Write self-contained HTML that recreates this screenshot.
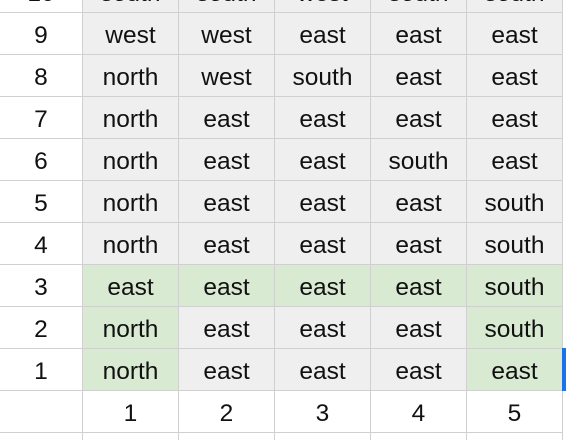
<!DOCTYPE html>
<html><head><meta charset="utf-8"><style>
html,body{margin:0;width:566px;height:440px;overflow:hidden;background:#fff}
body{font-family:"Liberation Sans",Arial,sans-serif;position:relative}
.c{position:absolute;box-sizing:border-box;display:flex;align-items:center;justify-content:center;padding-top:5px;font-size:24.5px;color:#111;border-right:1px solid #d0d0d0;border-bottom:1px solid #d0d0d0}
</style></head><body>
<div id="g"></div>
<div style="position:absolute;left:562px;top:348px;width:4px;height:43px;background:#1a73e8"></div>
<script>
const rows=[10,9,8,7,6,5,4,3,2,1];
const cols=[1,2,3,4,5];
const values=[
["south","south","west","south","south"],
["west","west","east","east","east"],
["north","west","south","east","east"],
["north","east","east","east","east"],
["north","east","east","south","east"],
["north","east","east","east","south"],
["north","east","east","east","south"],
["east","east","east","east","south"],
["north","east","east","east","south"],
["north","east","east","east","east"]];
const highlighted=[[3,1],[3,2],[3,3],[3,4],[3,5],[2,1],[2,5],[1,1],[1,5]];
const g=document.getElementById('g');
const top0=-29,rh=42,hw=83,cw=96;
function mk(x,y,w,h,t,bg){const d=document.createElement('div');d.className='c';d.style.left=x+'px';d.style.top=y+'px';d.style.width=w+'px';d.style.height=h+'px';d.style.background=bg;d.textContent=t;g.appendChild(d);return d;}
rows.forEach((r,i)=>{
 const y=top0+i*rh;
 const h=mk(0,y,hw,rh,r,'#fff');
 
 
 cols.forEach((c,j)=>{
  const hl=highlighted.some(p=>p[0]===r&&p[1]===c);
  const d=mk(hw+j*cw,y,cw,rh,values[i][j],hl?'#d9ead3':'#efefef');
  
  
 });
});
const yh=top0+rows.length*rh;
const corner=mk(0,yh,hw,rh,'','#fff');


const rest=440-(yh+rh);
cols.forEach((c,j)=>{
 const d=mk(hw+j*cw,yh,cw,rh,c,'#fff');
 
 
 const e=mk(hw+j*cw,yh+rh,cw,rest,'','#fff');
 e.style.borderBottom='none';
 
 
});
const e0=mk(0,yh+rh,hw,rest,'','#fff');
e0.style.borderBottom='none';


</script>
</body></html>
